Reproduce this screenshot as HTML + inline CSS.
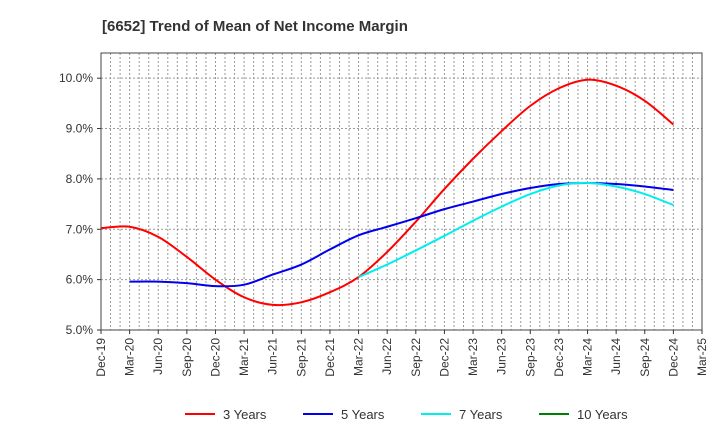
<!DOCTYPE html>
<html><head><meta charset="utf-8"><style>
body{margin:0;background:#fff;font-family:"Liberation Sans",sans-serif}
</style></head><body>
<svg id="c" width="720" height="440" font-family="Liberation Sans, sans-serif"></svg>
<script>
const xLabels=["Dec-19","Mar-20","Jun-20","Sep-20","Dec-20","Mar-21","Jun-21","Sep-21","Dec-21","Mar-22","Jun-22","Sep-22","Dec-22","Mar-23","Jun-23","Sep-23","Dec-23","Mar-24","Jun-24","Sep-24","Dec-24","Mar-25"];
const yTicks=[5,6,7,8,9,10];
const s3=[7.02,7.05,6.85,6.45,6.0,5.65,5.5,5.55,5.75,6.05,6.55,7.15,7.8,8.4,8.95,9.45,9.8,9.97,9.85,9.55,9.08];
const s3Start=0;
const s5=[5.96,5.96,5.93,5.87,5.9,6.1,6.3,6.6,6.88,7.05,7.22,7.4,7.55,7.7,7.82,7.9,7.92,7.9,7.85,7.78];
const s5Start=1;
const s7=[6.05,6.3,6.58,6.87,7.17,7.45,7.7,7.87,7.92,7.85,7.7,7.48];
const s7Start=9;
const s10=[];
const NS="http://www.w3.org/2000/svg",svg=document.getElementById('c');
const L=101,R=702,T=53,B=330,ymin=4.99,ymax=10.5;
const X=i=>L+(R-L)*i/21, Y=v=>B-(B-T)*(v-5)/(ymax-5);
function el(t,a,p){const e=document.createElementNS(NS,t);for(const k in a)e.setAttribute(k,a[k]);(p||svg).appendChild(e);return e;}
const title=el('text',{x:102,y:31,'font-size':15,'font-weight':'bold',fill:'#333'});

title.textContent='[6652]  Trend of Mean of Net Income Margin';
const grid=el('g',{});
for(let m=1;m<63;m++){const x=L+(R-L)*m/63;el('line',{x1:x,x2:x,y1:T,y2:B,stroke:'#999','stroke-dasharray':'2,2','stroke-width':1},grid);}
yTicks.forEach(v=>{const y=Y(v);el('line',{x1:L,x2:R,y1:y,y2:y,stroke:'#999','stroke-dasharray':'2,2'},grid);
const t=el('text',{x:L-8,y:y+4,'text-anchor':'end','font-size':12,fill:'#333'});t.textContent=v.toFixed(1)+'%';
el('line',{x1:L-4,x2:L,y1:y,y2:y,stroke:'#333'});});
xLabels.forEach((l,i)=>{const x=X(i);el('line',{x1:x,x2:x,y1:B,y2:B+4,stroke:'#333'});
const t=el('text',{transform:`translate(${x+4},${B+8}) rotate(-90)`,'text-anchor':'end','font-size':12,fill:'#333'});t.textContent=l;});
const box=el('rect',{x:L,y:T,width:R-L,height:B-T,fill:'none',stroke:'#444'});
function path(vals,start){const p=vals.map((v,i)=>[X(start+i),Y(v)]);if(!p.length)return'';let d=`M${p[0][0]},${p[0][1]}`;
for(let i=0;i<p.length-1;i++){const p0=p[i-1]||p[i],p1=p[i],p2=p[i+1],p3=p[i+2]||p2;
d+=` C${p1[0]+(p2[0]-p0[0])/6},${p1[1]+(p2[1]-p0[1])/6} ${p2[0]-(p3[0]-p1[0])/6},${p2[1]-(p3[1]-p1[1])/6} ${p2[0]},${p2[1]}`;}return d;}
[[s3,s3Start,'#ff0000','series-3-years'],[s5,s5Start,'#0000ee','series-5-years'],[s7,s7Start,'#00eeee','series-7-years'],[s10,0,'#008000','series-10-years']].forEach(s=>{
if(!s[0].length)return;const e=el('path',{d:path(s[0],s[1]),fill:'none',stroke:s[2],'stroke-width':2});});
const leg=[['3 Years','#ff0000',185],['5 Years','#0000ee',303],['7 Years','#00eeee',421],['10 Years','#008000',539]];
leg.forEach(g=>{const gr=el('g',{});
el('line',{x1:g[2],x2:g[2]+30,y1:414,y2:414,stroke:g[1],'stroke-width':2},gr);
const t=el('text',{x:g[2]+38,y:419,'font-size':13,fill:'#333'},gr);t.textContent=g[0];});
</script>
</body></html>
